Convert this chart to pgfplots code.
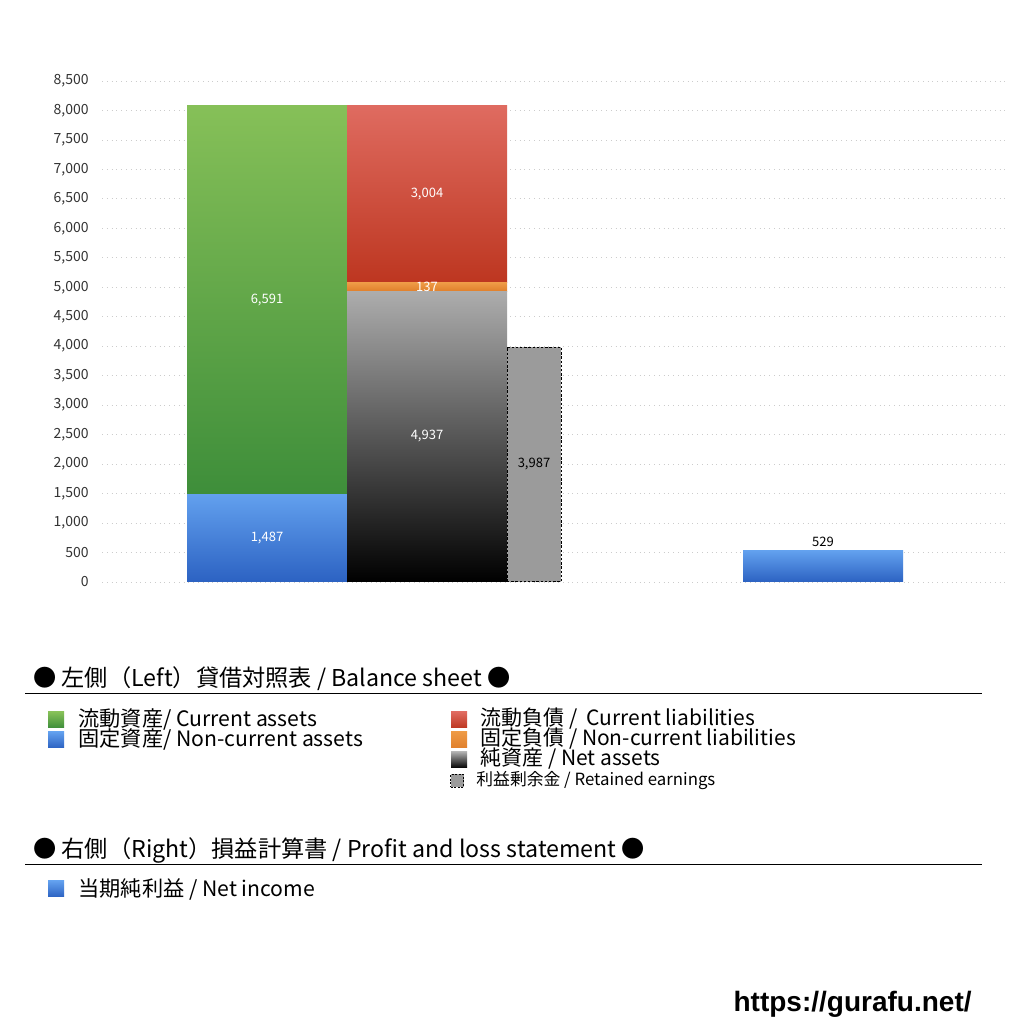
\documentclass[border=0pt]{standalone}
\usepackage{fontspec}
\setmainfont{Noto Sans CJK JP}
\newfontfamily\urlfont{Liberation Sans}
\usepackage{pgfplots}
\pgfplotsset{compat=1.18}

\definecolor{grnT}{HTML}{86C058}
\definecolor{grnB}{HTML}{3E8E3A}
\definecolor{bluT}{HTML}{62A0EE}
\definecolor{bluB}{HTML}{2C62C2}
\definecolor{redT}{HTML}{DF6B60}
\definecolor{redB}{HTML}{BD3620}
\definecolor{ornT}{HTML}{EE9A45}
\definecolor{ornB}{HTML}{E0802C}
\definecolor{blkT}{HTML}{ADADAD}
\definecolor{retG}{HTML}{9B9B9B}
\definecolor{tick}{HTML}{333333}

\newcommand\fs[1]{\fontsize{#1}{#1}\selectfont}

% same frame for every overlaid axis (1px = 0.5pt)
\pgfplotsset{
  frame/.style={
    scale only axis, width=453pt, height=250.5pt,
    at={(51pt,221pt)}, anchor=south west,
    xmin=102, xmax=1008, ymin=0, ymax=8500,
    /pgf/number format/assume math mode=true,
    /pgf/number format/1000 sep={,},
  },
  % stacked segments: pgfplots already puts the label mid-segment
  stacklabel/.style={
    nodes near coords,
    every node near coord/.append style={anchor=center, font=\fs{6.5pt}, text=#1},
  },
  % plain bar: move the label down by half the value
  midlabel/.style={
    nodes near coords,
    visualization depends on=rawy \as \rawy,
    every node near coord/.append style={
      shift={(axis direction cs:0,-\rawy/2)}, anchor=center,
      font=\fs{6.5pt}, text=#1},
  },
}

\begin{document}
\begin{tikzpicture}
\fill[white] (0,0) rectangle (512pt,512pt);
\useasboundingbox (0,0) rectangle (512pt,512pt);

% assets
\begin{axis}[frame,
    ybar stacked, bar width=160,
    ymajorgrids, grid style={gray!40, dotted},
    ytick distance=500, scaled y ticks=false,
    xtick=\empty, major tick length=0pt,
    axis line style={draw=none},
    yticklabel style={font=\fs{7pt}, text=tick, inner sep=0pt, xshift=-6.5pt},
    stacklabel=white]
  \addplot[top color=bluT, bottom color=bluB, draw=none] coordinates {(267,1487)};
  \addplot[top color=grnT, bottom color=grnB, draw=none] coordinates {(267,6591)};
\end{axis}

% liabilities and net assets
\begin{axis}[frame, hide axis, ybar stacked, bar width=160, stacklabel=white]
  \addplot[top color=blkT, bottom color=black, draw=none] coordinates {(427,4937)};
  \addplot[top color=ornT, bottom color=ornB, draw=none] coordinates {(427,137)};
  \addplot[top color=redT, bottom color=redB, draw=none] coordinates {(427,3004)};
\end{axis}

% retained earnings and net income
\begin{axis}[frame, hide axis, ybar, bar shift=0pt]
  \addplot[bar width=54, fill=retG, draw=black, line width=0.5pt,
    dash pattern=on 1.2pt off 0.9pt, midlabel=black] coordinates {(534,3987)};
  \addplot[bar width=160, top color=bluT, bottom color=bluB, draw=none,
    nodes near coords,
    every node near coord/.append style={font=\fs{6.5pt}, text=black, inner sep=2pt}]
    coordinates {(823,529)};
\end{axis}

\begin{scope}[x=0.5pt, y=-0.5pt, shift={(0pt,512pt)}]
  \node[anchor=west, inner sep=0pt, font=\fs{11.6pt}] at (33,679)
    {● 左側（Left）貸借対照表 / Balance sheet ●};
  \draw[line width=0.5pt] (25,694) -- (982,694);

  \node[minimum size=8pt, inner sep=0pt, top color=grnT, bottom color=grnB] at (56,720) {};
  \node[minimum size=8pt, inner sep=0pt, top color=bluT, bottom color=bluB] at (56,740) {};
  \node[anchor=west, inner sep=0pt, font=\fs{10.6pt}] at (78,719) {流動資産/ Current assets};
  \node[anchor=west, inner sep=0pt, font=\fs{10.6pt}] at (78,739) {固定資産/ Non-current assets};

  \node[minimum size=8pt, inner sep=0pt, top color=redT, bottom color=redB] at (459,720) {};
  \node[minimum size=8pt, inner sep=0pt, top color=ornT, bottom color=ornB] at (459,740) {};
  \node[minimum size=8pt, inner sep=0pt, top color=blkT, bottom color=black] at (459,760) {};
  \node[minimum size=6.5pt, inner sep=0pt, fill=retG, draw=black, line width=0.4pt,
    dash pattern=on 1pt off 0.8pt] at (457,781) {};
  \node[anchor=west, inner sep=0pt, font=\fs{10.5pt}] at (480,719) {流動負債 /\ \ Current liabilities};
  \node[anchor=west, inner sep=0pt, font=\fs{10.5pt}] at (480,739) {固定負債 / Non-current liabilities};
  \node[anchor=west, inner sep=0pt, font=\fs{10.5pt}] at (480,759) {純資産 / Net assets};
  \node[anchor=west, inner sep=0pt, font=\fs{8.4pt}] at (476,781) {利益剰余金 / Retained earnings};

  \node[anchor=west, inner sep=0pt, font=\fs{11.6pt}] at (33,850)
    {● 右側（Right）損益計算書 / Profit and loss statement ●};
  \draw[line width=0.5pt] (25,865) -- (982,865);
  \node[minimum size=8pt, inner sep=0pt, top color=bluT, bottom color=bluB] at (56,889) {};
  \node[anchor=west, inner sep=0pt, font=\fs{10.6pt}] at (78,889) {当期純利益 / Net income};

  \node[anchor=east, inner sep=0pt, font=\urlfont\bfseries\fs{14pt}] at (972,1004)
    {https://gurafu.net/};
\end{scope}
\end{tikzpicture}
\end{document}
